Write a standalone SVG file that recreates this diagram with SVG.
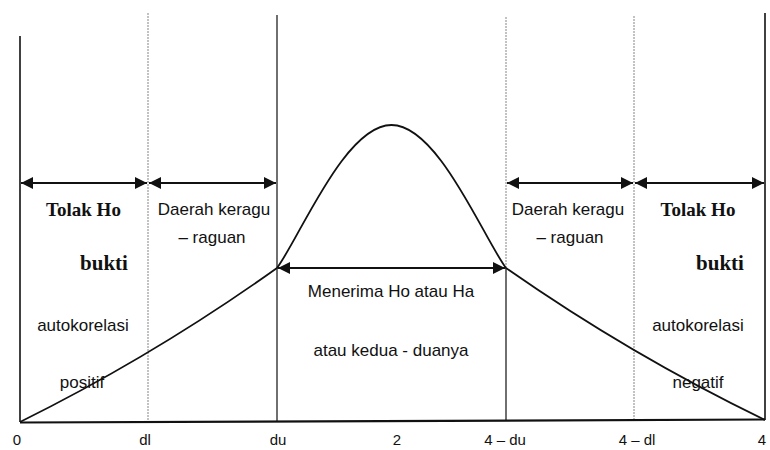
<svg xmlns="http://www.w3.org/2000/svg" width="770" height="450" viewBox="0 0 770 450">
<defs>
<marker id="ah" viewBox="0 0 12 12" refX="12" refY="6" markerWidth="12" markerHeight="12" markerUnits="userSpaceOnUse" orient="auto-start-reverse">
<path d="M0,0 L12,6 L0,12 Z" fill="#111"/>
</marker>
<style>
.bd{stroke:#111;stroke-width:1.6;fill:none}
.thin{stroke:#222;stroke-width:1.3;fill:none}
.gr{stroke:#9a9a9a;stroke-width:1.2;fill:none;stroke-dasharray:2 1}
.arr{stroke:#111;stroke-width:2;fill:none;marker-start:url(#ah);marker-end:url(#ah)}
.curve{stroke:#111;stroke-width:1.8;fill:none}
.sf{font-family:"Liberation Serif",serif;font-weight:bold;font-size:19px;fill:#111;text-anchor:middle}
.sb{font-size:21px}
.ss{font-family:"Liberation Sans",Arial,sans-serif;font-size:17px;fill:#111;text-anchor:middle}
.ax{font-family:"Liberation Sans",Arial,sans-serif;font-size:15px;fill:#111;text-anchor:middle}
</style>
</defs>
<rect width="770" height="450" fill="#ffffff"/>
<g id="grid">
<line class="bd" x1="20" y1="36" x2="20" y2="422"/>
<line class="gr" x1="148" y1="13" x2="148" y2="422"/>
<line class="thin" x1="277" y1="15" x2="277" y2="421"/>
<line class="gr" x1="506" y1="17" x2="506" y2="268"/>
<line class="thin" x1="506" y1="268" x2="506" y2="420"/>
<line class="gr" x1="634" y1="16" x2="634" y2="420"/>
<line class="bd" x1="765" y1="13" x2="765" y2="420"/>
<line stroke="#111" stroke-width="2.2" x1="20" y1="422.5" x2="765" y2="419.5"/>
</g>
<g id="curve">
<path class="curve" d="M20,422 Q154.7,355.3 277,268 C300,237 345,125 391.5,125 C438,125 483,237 506,268 Q629.4,354.3 765,420"/>
</g>
<g id="connectors">
<line class="arr" x1="21" y1="183" x2="147" y2="183"/>
<line class="arr" x1="149" y1="183" x2="276" y2="183"/>
<line class="arr" x1="507" y1="183" x2="633" y2="183"/>
<line class="arr" x1="635" y1="183" x2="764" y2="183"/>
<line class="arr" x1="278" y1="268" x2="505" y2="268"/>
</g>
<g id="tolak-left">
<text class="sf" x="83.5" y="216">Tolak Ho</text>
<text class="sf sb" x="104" y="270">bukti</text>
<text class="ss" x="83" y="331">autokorelasi</text>
<text class="ss" x="82" y="388">positif</text>
</g>
<g id="ragu-left">
<text class="ss" x="214" y="215">Daerah keragu</text>
<text class="ss" x="212" y="243">– raguan</text>
</g>
<g id="terima">
<text class="ss" x="391" y="297">Menerima Ho atau Ha</text>
<text class="ss" x="391" y="356">atau kedua - duanya</text>
</g>
<g id="ragu-right">
<text class="ss" x="568" y="215">Daerah keragu</text>
<text class="ss" x="570" y="243">– raguan</text>
</g>
<g id="tolak-right">
<text class="sf" x="698" y="216">Tolak Ho</text>
<text class="sf sb" x="720" y="270">bukti</text>
<text class="ss" x="698" y="331">autokorelasi</text>
<text class="ss" x="698" y="388">negatif</text>
</g>
<g id="axis-labels">
<text class="ax" x="17" y="445">0</text>
<text class="ax" x="145" y="445">dl</text>
<text class="ax" x="278" y="445">du</text>
<text class="ax" x="397" y="445">2</text>
<text class="ax" x="505" y="445">4 – du</text>
<text class="ax" x="637" y="445">4 – dl</text>
<text class="ax" x="762" y="445">4</text>
</g>
</svg>
